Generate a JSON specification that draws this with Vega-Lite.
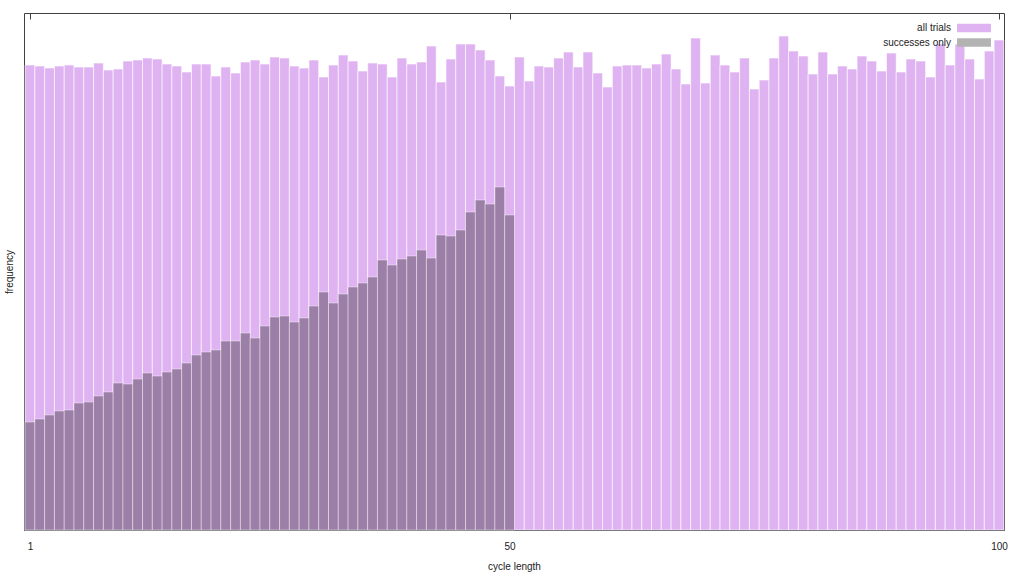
{
  "$schema": "https://vega.github.io/schema/vega-lite/v6.json",
  "autosize": {"type": "none"},
  "padding": {"left": 24, "top": 13, "right": 20, "bottom": 46},
  "width": 980,
  "height": 517,
  "background": "white",
  "config": {
    "view": {"stroke": "#404040", "strokeWidth": 1},
    "font": "Liberation Sans",
    "axis": {"labelFont": "Liberation Sans", "titleFont": "Liberation Sans", "titleFontWeight": "normal", "labelColor": "#222", "titleColor": "#222"}
  },
  "data": {
    "values": [
      {"n": 1, "series": "all trials", "freq": 465}, {"n": 2, "series": "all trials", "freq": 464},
      {"n": 3, "series": "all trials", "freq": 462}, {"n": 4, "series": "all trials", "freq": 464},
      {"n": 5, "series": "all trials", "freq": 465}, {"n": 6, "series": "all trials", "freq": 463},
      {"n": 7, "series": "all trials", "freq": 463}, {"n": 8, "series": "all trials", "freq": 467},
      {"n": 9, "series": "all trials", "freq": 460}, {"n": 10, "series": "all trials", "freq": 461},
      {"n": 11, "series": "all trials", "freq": 469}, {"n": 12, "series": "all trials", "freq": 470},
      {"n": 13, "series": "all trials", "freq": 472}, {"n": 14, "series": "all trials", "freq": 471},
      {"n": 15, "series": "all trials", "freq": 466}, {"n": 16, "series": "all trials", "freq": 464},
      {"n": 17, "series": "all trials", "freq": 458}, {"n": 18, "series": "all trials", "freq": 466},
      {"n": 19, "series": "all trials", "freq": 466}, {"n": 20, "series": "all trials", "freq": 454},
      {"n": 21, "series": "all trials", "freq": 463}, {"n": 22, "series": "all trials", "freq": 457},
      {"n": 23, "series": "all trials", "freq": 468}, {"n": 24, "series": "all trials", "freq": 470},
      {"n": 25, "series": "all trials", "freq": 466}, {"n": 26, "series": "all trials", "freq": 473},
      {"n": 27, "series": "all trials", "freq": 472}, {"n": 28, "series": "all trials", "freq": 464},
      {"n": 29, "series": "all trials", "freq": 462}, {"n": 30, "series": "all trials", "freq": 470},
      {"n": 31, "series": "all trials", "freq": 453}, {"n": 32, "series": "all trials", "freq": 465},
      {"n": 33, "series": "all trials", "freq": 475}, {"n": 34, "series": "all trials", "freq": 469},
      {"n": 35, "series": "all trials", "freq": 459}, {"n": 36, "series": "all trials", "freq": 467},
      {"n": 37, "series": "all trials", "freq": 466}, {"n": 38, "series": "all trials", "freq": 453},
      {"n": 39, "series": "all trials", "freq": 472}, {"n": 40, "series": "all trials", "freq": 466},
      {"n": 41, "series": "all trials", "freq": 468}, {"n": 42, "series": "all trials", "freq": 484},
      {"n": 43, "series": "all trials", "freq": 448}, {"n": 44, "series": "all trials", "freq": 471},
      {"n": 45, "series": "all trials", "freq": 486}, {"n": 46, "series": "all trials", "freq": 486},
      {"n": 47, "series": "all trials", "freq": 480}, {"n": 48, "series": "all trials", "freq": 470},
      {"n": 49, "series": "all trials", "freq": 454}, {"n": 50, "series": "all trials", "freq": 444},
      {"n": 51, "series": "all trials", "freq": 473}, {"n": 52, "series": "all trials", "freq": 449},
      {"n": 53, "series": "all trials", "freq": 464}, {"n": 54, "series": "all trials", "freq": 463},
      {"n": 55, "series": "all trials", "freq": 472}, {"n": 56, "series": "all trials", "freq": 478},
      {"n": 57, "series": "all trials", "freq": 463}, {"n": 58, "series": "all trials", "freq": 478},
      {"n": 59, "series": "all trials", "freq": 457}, {"n": 60, "series": "all trials", "freq": 443},
      {"n": 61, "series": "all trials", "freq": 464}, {"n": 62, "series": "all trials", "freq": 465},
      {"n": 63, "series": "all trials", "freq": 465}, {"n": 64, "series": "all trials", "freq": 462},
      {"n": 65, "series": "all trials", "freq": 466}, {"n": 66, "series": "all trials", "freq": 476},
      {"n": 67, "series": "all trials", "freq": 461}, {"n": 68, "series": "all trials", "freq": 446},
      {"n": 69, "series": "all trials", "freq": 492}, {"n": 70, "series": "all trials", "freq": 447},
      {"n": 71, "series": "all trials", "freq": 475}, {"n": 72, "series": "all trials", "freq": 465},
      {"n": 73, "series": "all trials", "freq": 458}, {"n": 74, "series": "all trials", "freq": 472},
      {"n": 75, "series": "all trials", "freq": 441}, {"n": 76, "series": "all trials", "freq": 450},
      {"n": 77, "series": "all trials", "freq": 472}, {"n": 78, "series": "all trials", "freq": 494},
      {"n": 79, "series": "all trials", "freq": 479}, {"n": 80, "series": "all trials", "freq": 474},
      {"n": 81, "series": "all trials", "freq": 456}, {"n": 82, "series": "all trials", "freq": 478},
      {"n": 83, "series": "all trials", "freq": 456}, {"n": 84, "series": "all trials", "freq": 464},
      {"n": 85, "series": "all trials", "freq": 461}, {"n": 86, "series": "all trials", "freq": 474},
      {"n": 87, "series": "all trials", "freq": 469}, {"n": 88, "series": "all trials", "freq": 459},
      {"n": 89, "series": "all trials", "freq": 477}, {"n": 90, "series": "all trials", "freq": 458},
      {"n": 91, "series": "all trials", "freq": 471}, {"n": 92, "series": "all trials", "freq": 469},
      {"n": 93, "series": "all trials", "freq": 453}, {"n": 94, "series": "all trials", "freq": 486},
      {"n": 95, "series": "all trials", "freq": 465}, {"n": 96, "series": "all trials", "freq": 486},
      {"n": 97, "series": "all trials", "freq": 471}, {"n": 98, "series": "all trials", "freq": 451},
      {"n": 99, "series": "all trials", "freq": 479}, {"n": 100, "series": "all trials", "freq": 490},
      {"n": 1, "series": "successes only", "freq": 108}, {"n": 2, "series": "successes only", "freq": 111},
      {"n": 3, "series": "successes only", "freq": 115}, {"n": 4, "series": "successes only", "freq": 119},
      {"n": 5, "series": "successes only", "freq": 120}, {"n": 6, "series": "successes only", "freq": 127},
      {"n": 7, "series": "successes only", "freq": 128}, {"n": 8, "series": "successes only", "freq": 134},
      {"n": 9, "series": "successes only", "freq": 138}, {"n": 10, "series": "successes only", "freq": 147},
      {"n": 11, "series": "successes only", "freq": 146}, {"n": 12, "series": "successes only", "freq": 151},
      {"n": 13, "series": "successes only", "freq": 157}, {"n": 14, "series": "successes only", "freq": 154},
      {"n": 15, "series": "successes only", "freq": 158}, {"n": 16, "series": "successes only", "freq": 161},
      {"n": 17, "series": "successes only", "freq": 167}, {"n": 18, "series": "successes only", "freq": 175},
      {"n": 19, "series": "successes only", "freq": 178}, {"n": 20, "series": "successes only", "freq": 180},
      {"n": 21, "series": "successes only", "freq": 189}, {"n": 22, "series": "successes only", "freq": 189},
      {"n": 23, "series": "successes only", "freq": 197}, {"n": 24, "series": "successes only", "freq": 192},
      {"n": 25, "series": "successes only", "freq": 204}, {"n": 26, "series": "successes only", "freq": 213},
      {"n": 27, "series": "successes only", "freq": 214}, {"n": 28, "series": "successes only", "freq": 208},
      {"n": 29, "series": "successes only", "freq": 212}, {"n": 30, "series": "successes only", "freq": 224},
      {"n": 31, "series": "successes only", "freq": 238}, {"n": 32, "series": "successes only", "freq": 227},
      {"n": 33, "series": "successes only", "freq": 236}, {"n": 34, "series": "successes only", "freq": 243},
      {"n": 35, "series": "successes only", "freq": 247}, {"n": 36, "series": "successes only", "freq": 253},
      {"n": 37, "series": "successes only", "freq": 270}, {"n": 38, "series": "successes only", "freq": 265},
      {"n": 39, "series": "successes only", "freq": 271}, {"n": 40, "series": "successes only", "freq": 274},
      {"n": 41, "series": "successes only", "freq": 280}, {"n": 42, "series": "successes only", "freq": 272},
      {"n": 43, "series": "successes only", "freq": 295}, {"n": 44, "series": "successes only", "freq": 294},
      {"n": 45, "series": "successes only", "freq": 300}, {"n": 46, "series": "successes only", "freq": 318},
      {"n": 47, "series": "successes only", "freq": 330}, {"n": 48, "series": "successes only", "freq": 326},
      {"n": 49, "series": "successes only", "freq": 343}, {"n": 50, "series": "successes only", "freq": 315}
    ]
  },
  "layer": [
    {
      "transform": [{"filter": "datum.series == 'all trials'"}],
      "mark": {"type": "bar", "width": 9.79, "stroke": "white", "strokeWidth": 1, "strokeOpacity": 0.6},
      "encoding": {
        "x": {
          "field": "n", "type": "quantitative",
          "scale": {"domain": [0.39, 100.51], "nice": false, "zero": false, "padding": 0},
          "axis": {"orient": "bottom", "values": [1, 50, 100], "title": "cycle length", "domain": false, "grid": false,
                   "tickSize": -6, "tickColor": "#404040", "labelPadding": 17, "labelFontSize": 10, "titleFontSize": 10, "titlePadding": 10}
        },
        "y": {
          "field": "freq", "type": "quantitative", "stack": null,
          "scale": {"domain": [0, 517], "nice": false},
          "axis": {"title": "frequency", "labels": false, "ticks": false, "domain": false, "grid": false, "titleFontSize": 10, "titlePadding": 10}
        },
        "color": {
          "field": "series", "type": "nominal",
          "scale": {"domain": ["all trials", "successes only"], "range": ["#dfb3f1", "#b3b3b3"]},
          "legend": {
            "title": null, "orient": "none", "legendX": 945, "legendY": 10, "padding": 0,
            "symbolType": "M-4,-1H4V1H-4Z", "symbolSize": 72, "symbolStrokeWidth": 0,
            "labelFontSize": 10, "labelColor": "#222", "labelAlign": "right", "labelOffset": -28, "rowPadding": 4.5
          }
        }
      }
    },
    {
      "transform": [{"filter": "datum.series == 'successes only'"}],
      "mark": {"type": "bar", "width": 9.79, "stroke": "white", "strokeWidth": 1, "strokeOpacity": 0.4},
      "encoding": {
        "x": {
          "field": "n", "type": "quantitative",
          "axis": {"orient": "top", "values": [1, 50, 100], "title": null, "labels": false, "domain": false, "grid": false,
                   "tickSize": -6, "tickColor": "#404040"}
        },
        "y": {"field": "freq", "type": "quantitative", "stack": null},
        "color": {"value": "#9c7fa7"}
      }
    }
  ],
  "resolve": {"axis": {"x": "independent"}}
}
